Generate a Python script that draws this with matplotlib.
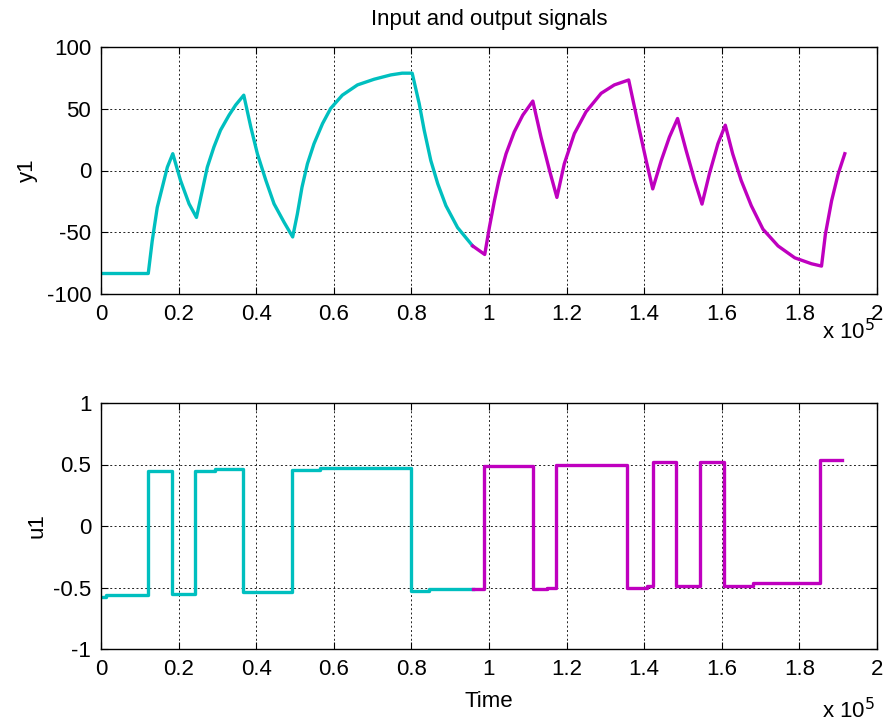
import matplotlib
matplotlib.use('Agg')
from matplotlib import pyplot as plt
from matplotlib.ticker import FuncFormatter
import numpy as np

plt.rcParams['font.family'] = ['Liberation Sans', 'DejaVu Sans']
plt.rcParams['axes.unicode_minus'] = False

# Output y1, estimation part (cyan) - time in units of 1e5 s
y_est_t = [0, 0.1218, 0.132, 0.145, 0.158, 0.171, 0.185, 0.205, 0.227, 0.246,
           0.261, 0.274, 0.291, 0.308, 0.330, 0.347, 0.368, 0.386, 0.403, 0.425,
           0.446, 0.472, 0.494, 0.506, 0.518, 0.532, 0.549, 0.571, 0.592, 0.622,
           0.661, 0.704, 0.747, 0.776, 0.802, 0.820, 0.833, 0.850, 0.868, 0.889,
           0.919, 0.958]
y_est_v = [-83.4, -83.4, -57, -29.9, -13.6, 2.7, 13.6, -8.1, -27, -38,
           -16.3, 2.7, 19, 32.6, 44.8, 53, 61, 35.3, 13.6, -8.1,
           -27, -42, -53.8, -35.3, -13.6, 5.4, 21.7, 38, 50.3, 61,
           69.3, 73.9, 77.4, 78.8, 78.8, 54.3, 32.6, 8.1, -10.8, -28.5,
           -46.2, -61.1]

# Output y1, validation part (magenta)
y_val_t = [0.958, 0.989, 1.001, 1.014, 1.027, 1.044, 1.065, 1.087, 1.113, 1.134,
           1.156, 1.175, 1.194, 1.220, 1.250, 1.289, 1.323, 1.360, 1.384, 1.405,
           1.422, 1.444, 1.465, 1.486, 1.508, 1.530, 1.549, 1.568, 1.590, 1.609,
           1.628, 1.650, 1.676, 1.706, 1.745, 1.788, 1.831, 1.857, 1.867, 1.883,
           1.900, 1.917]
y_val_v = [-61.1, -68, -46, -24.5, -5.4, 13.6, 31.2, 44.8, 56.2, 27.1,
           0, -21.8, 5.4, 29.9, 47.5, 62.5, 69.3, 73.3, 38, 8.1,
           -14.9, 8.1, 27.1, 42.1, 16.3, -8.1, -27.2, -2.7, 21.7, 36.7,
           13.6, -8.1, -28.5, -47.5, -61.1, -70.7, -75.5, -77.4, -51.6, -24.5,
           -2.7, 13.6]

# Input u1, estimation part (steps)
u_est_t = [0, 0.012, 0.122, 0.182, 0.242, 0.295, 0.367, 0.491, 0.565, 0.799, 0.846, 0.958]
u_est_v = [-0.574, -0.56, 0.448, -0.55, 0.448, 0.46, -0.54, 0.456, 0.473, -0.525, -0.51, -0.51]

# Input u1, validation part (steps)
u_val_t = [0.958, 0.987, 1.113, 1.150, 1.173, 1.356, 1.407, 1.422, 1.482, 1.544,
           1.606, 1.681, 1.853, 1.911]
u_val_v = [-0.51, 0.49, -0.513, -0.5, 0.5, -0.5, -0.49, 0.52, -0.49, 0.52,
           -0.49, -0.465, 0.535, 0.535]

cyan = '#00bfbf'
magenta = '#bf00bf'

W, H = 885, 723
fig = plt.figure(figsize=(W / 100, H / 100), dpi=100)
ax1 = fig.add_axes([101 / W, 1 - 294 / H, 776 / W, 247 / H])
ax2 = fig.add_axes([101 / W, 1 - 649 / H, 776 / W, 246 / H])

scale = 1e5
ax1.plot(np.array(y_est_t) * scale, y_est_v, color=cyan, lw=2.4)
ax1.plot(np.array(y_val_t) * scale, y_val_v, color=magenta, lw=2.4)
ax2.step(np.array(u_est_t) * scale, u_est_v, where='post', color=cyan, lw=2.4)
ax2.step(np.array(u_val_t) * scale, u_val_v, where='post', color=magenta, lw=2.4)

fmt = FuncFormatter(lambda x, pos: f'{x / scale:g}')
for ax in (ax1, ax2):
    ax.set_xlim(0, 2 * scale)
    ax.set_xticks(np.arange(0, 2.01, 0.2) * scale)
    ax.xaxis.set_major_formatter(fmt)
    ax.grid(True, color='#222222', linestyle=(0, (2, 2.5)), linewidth=0.7)
    ax.tick_params(direction='in', top=True, right=True, labelsize=16, length=5, pad=7)
    for s in ax.spines.values():
        s.set_linewidth(1.0)

ax1.set_ylim(-100, 100)
ax1.set_yticks([-100, -50, 0, 50, 100])
ax2.set_ylim(-1, 1)
ax2.set_yticks([-1, -0.5, 0, 0.5, 1])
ax2.yaxis.set_major_formatter(FuncFormatter(lambda v, pos: f'{v:g}'))

ax1.set_ylabel('y1', fontsize=16, labelpad=6)
ax2.set_ylabel('u1', fontsize=16, labelpad=4)
ax1.set_title('Input and output signals', fontsize=16, pad=16)
ax2.set_xlabel('Time', fontsize=16, labelpad=8)

fig.text(822 / W, 1 - 339 / H, r'x 10$^{5}$', fontsize=16, va='baseline', ha='left')
fig.text(822 / W, 1 - 718 / H, r'x 10$^{5}$', fontsize=16, va='baseline', ha='left')

fig.savefig('out.png', dpi=100)
